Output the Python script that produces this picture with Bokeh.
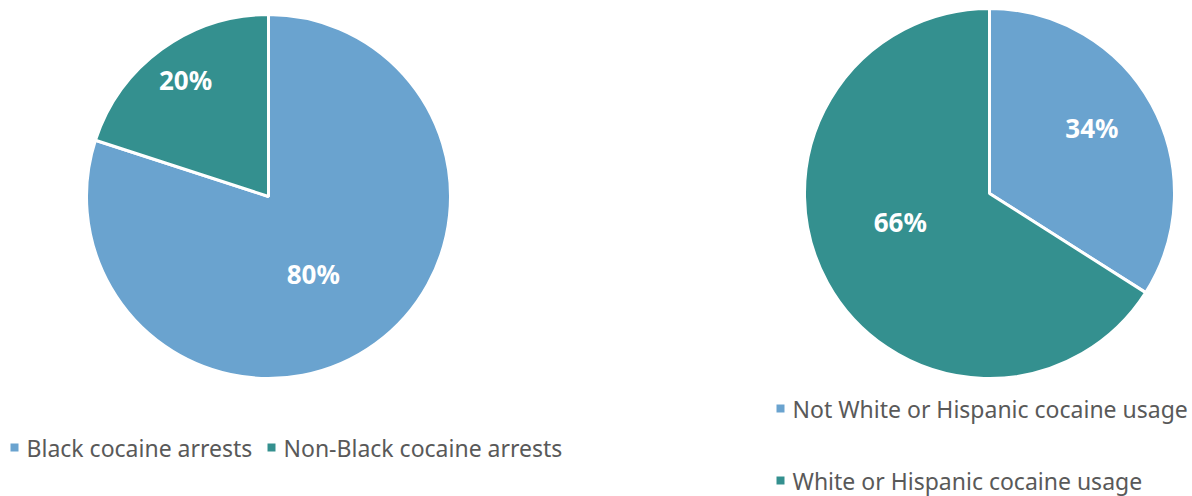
import numpy as np
from bokeh.plotting import figure
from bokeh.models import ColumnDataSource, Range1d
from bokeh.core.properties import value
from bokeh.embed import file_html
from bokeh.resources import INLINE

# ---- data ----
arrest_labels = ["Black cocaine arrests", "Non-Black cocaine arrests"]
arrest_values = [80, 20]
usage_labels = ["Not White or Hispanic cocaine usage", "White or Hispanic cocaine usage"]
usage_values = [34, 66]
colors = ["#6aa3cf", "#34908f"]

# ---- layout (page pixels) ----
W, H = 1192, 496
def sx(x):
    return x
def sy(y):
    return H - y

FONT = "Noto Sans"
TEXT_COLOR = "#595959"

p = figure(width=W, height=H, x_range=Range1d(0, W), y_range=Range1d(0, H),
           output_backend="svg", toolbar_location=None, min_border=0)
p.axis.visible = False
p.grid.visible = False
p.outline_line_color = None
p.background_fill_color = "white"


def draw_pie(vals, cx, cy, r, label_fracs, label_turn):
    vals = np.asarray(vals, dtype=float)
    frac = vals / vals.sum()
    cum = np.concatenate([[0], np.cumsum(frac)])
    start = np.pi / 2 - 2 * np.pi * cum[:-1]
    end = np.pi / 2 - 2 * np.pi * cum[1:]
    mid = (start + end) / 2 - np.deg2rad(np.asarray(label_turn))
    lf = np.asarray(label_fracs)
    src = ColumnDataSource(dict(
        start=start, end=end, color=colors[:len(vals)],
        lx=cx + r * lf * np.cos(mid), ly=cy + r * lf * np.sin(mid) + 2,
        txt=[f"{v:.0f}%" for v in vals * 100 / vals.sum()],
    ))
    p.wedge(x=cx, y=cy, radius=r, start_angle="start", end_angle="end",
            direction="clock", fill_color="color", line_color="white",
            line_width=3, source=src)
    p.text(x="lx", y="ly", text="txt", source=src, text_color="white",
           text_font=value(FONT), text_font_style="bold", text_font_size="26px",
           text_align="center", text_baseline="middle")


draw_pie(arrest_values, sx(268), sy(196), 182, [0.5, 0.775], [6.5, 0])
draw_pie(usage_values, sx(989), sy(193), 185, [0.65, 0.51], [-2.8, 9.7])

# ---- legends ----
def legend(labels, xs, ys):
    src = ColumnDataSource(dict(x=[sx(v) for v in xs], y=[sy(v) for v in ys],
                                tx=[sx(v) + 12 for v in xs], lab=labels,
                                color=colors[:len(labels)]))
    p.scatter(x="x", y="y", marker="square", size=8, fill_color="color",
              line_color=None, source=src)
    p.text(x="tx", y="y", text="lab", source=src, text_color=TEXT_COLOR,
           text_font=value(FONT), text_font_size="23px",
           text_align="left", text_baseline="middle")

legend(arrest_labels, [14, 271], [447, 447])
legend(usage_labels, [780, 780], [408, 480])

open("out.html", "w").write(file_html(p, INLINE))
